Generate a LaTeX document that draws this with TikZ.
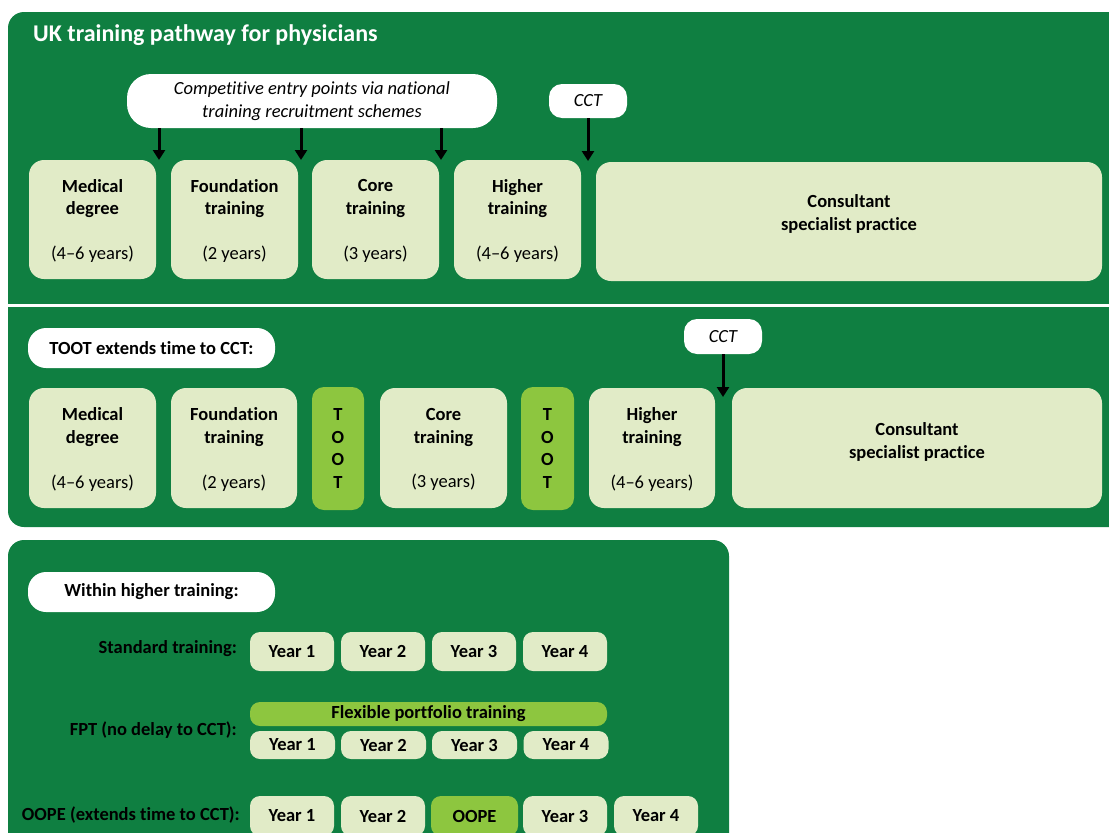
\documentclass[tikz,border=0pt]{standalone}
\usepackage{fontspec}
\setmainfont{Carlito}[Ligatures={TeX,NoCommon,NoContextual,NoRequired}, Contextuals=NoAlternate, RawFeature={-dlig,-calt,-clig}]
\usetikzlibrary{arrows.meta}

\definecolor{panelGreen}{HTML}{0F7F41}
\definecolor{paleGreen}{HTML}{E1EBC7}
\definecolor{limeGreen}{HTML}{8DC63F}
\newcommand{\stageFont}{\fontsize{18.5}{22.6}\selectfont}

\begin{document}
\begin{tikzpicture}[x=1pt, y=-1pt,
  stageBox/.style={rectangle, fill=paleGreen, rounded corners=15pt, align=center, inner sep=0pt, text depth=0pt, font=\stageFont},
  tootBox/.style={rectangle, fill=limeGreen, rounded corners=12pt, align=center, inner sep=0pt, font=\stageFont\bfseries},
  whiteTag/.style={rectangle, fill=white, align=center, inner sep=0pt, font=\stageFont},
  yearBox/.style={rectangle, fill=paleGreen, rounded corners=10pt, inner sep=0pt, font=\stageFont\bfseries},
  rowLabel/.style={anchor=east, inner sep=0pt, font=\stageFont\bfseries},
  entryArrow/.style={draw=black, line width=3pt, -{Triangle[width=12pt,length=10pt]}}]
\useasboundingbox (0,0) rectangle (1109,833);
\clip (0,0) rectangle (1109,833);

% panels
\fill[panelGreen, rounded corners=16pt] (8,12) rectangle (1130,527);
\draw[white, line width=3pt] (8,305.5) -- (1130,305.5);
\fill[panelGreen, rounded corners=16pt] (8,540) rectangle (729,870);

\node[anchor=base west, inner sep=0pt, text=white, font=\fontsize{24}{29}\selectfont\bfseries] (titleText) at (33,41) {UK training pathway for physicians};

% standard pathway
\node[whiteTag, rounded corners=24pt, minimum width=370pt, minimum height=54pt, font=\stageFont\itshape] (entryTag) at (312,101) {Competitive entry points via national\\training recruitment schemes};
\node[whiteTag, rounded corners=13pt, minimum width=78pt, minimum height=34pt, font=\stageFont\itshape] (cctTop) at (588,101) {CCT};

\node[stageBox, minimum width=127pt, minimum height=119pt] (medTop) at (92.5,219.5) {\textbf{Medical}\\\textbf{degree}\\[22pt](4--6 years)};
\node[stageBox, minimum width=127pt, minimum height=119pt] (foundTop) at (234.5,219.5) {\textbf{Foundation}\\\textbf{training}\\[22pt](2 years)};
\node[stageBox, minimum width=127pt, minimum height=119pt] (coreTop) at (375.5,219.5) {\textbf{Core}\\\textbf{training}\\[22pt](3 years)};
\node[stageBox, minimum width=127pt, minimum height=119pt] (higherTop) at (517.5,219.5) {\textbf{Higher}\\\textbf{training}\\[22pt](4--6 years)};
\node[stageBox, minimum width=506pt, minimum height=119pt] (consTop) at (849,221.5) {};
\node[align=center, inner sep=0pt, font=\stageFont\bfseries] (consTopText) at ([yshift=7.5pt]consTop.center) {Consultant\\specialist practice};

\coordinate (gapA) at (159,160);
\coordinate (gapB) at (301,160);
\coordinate (gapC) at (441,160);
\coordinate (gapD) at (588,161);
\draw[entryArrow] (entryTag.south -| gapA) -- (gapA);
\draw[entryArrow] (entryTag.south -| gapB) -- (gapB);
\draw[entryArrow] (entryTag.south -| gapC) -- (gapC);
\draw[entryArrow] (cctTop.south) -- (gapD);

% TOOT pathway
\node[whiteTag, rounded corners=18pt, minimum width=247pt, minimum height=40pt, font=\stageFont\bfseries] (tootTag) at (151.5,348) {TOOT extends time to CCT:};
\node[whiteTag, rounded corners=13pt, minimum width=78pt, minimum height=35pt, font=\stageFont\itshape] (cctMid) at (723,336.5) {CCT};

\node[stageBox, minimum width=127pt, minimum height=120pt] (medMid) at (92.5,448) {\textbf{Medical}\\\textbf{degree}\\[22pt](4--6 years)};
\node[stageBox, minimum width=126pt, minimum height=120pt] (foundMid) at (234,448) {\textbf{Foundation}\\\textbf{training}\\[22pt](2 years)};
\node[tootBox, minimum width=52pt, minimum height=123pt] (tootA) at (338,448.5) {T\\O\\O\\T};
\node[stageBox, minimum width=127pt, minimum height=120pt] (coreMid) at (443.5,448) {\textbf{Core}\\\textbf{training}\\[22pt](3 years)};
\node[tootBox, minimum width=53pt, minimum height=123pt] (tootB) at (547.5,448.5) {T\\O\\O\\T};
\node[stageBox, minimum width=126pt, minimum height=120pt] (higherMid) at (652,448) {\textbf{Higher}\\\textbf{training}\\[22pt](4--6 years)};
\node[stageBox, minimum width=370pt, minimum height=120pt] (consMid) at (917,448) {};
\node[align=center, inner sep=0pt, font=\stageFont\bfseries] (consMidText) at ([yshift=6pt]consMid.center) {Consultant\\specialist practice};

\coordinate (gapE) at (723,397);
\draw[entryArrow] (cctMid.south) -- (gapE);

% within higher training
\node[whiteTag, rounded corners=18pt, minimum width=247pt, minimum height=40pt, font=\stageFont\bfseries] (withinTag) at (151.5,592) {Within higher training:};

\node[rowLabel] (stdLabel) at (237,649) {Standard training:};
\node[yearBox, minimum width=84pt, minimum height=39pt] (stdOne) at (292,651.5) {Year 1};
\node[yearBox, minimum width=84pt, minimum height=39pt] (stdTwo) at (383,651.5) {Year 2};
\node[yearBox, minimum width=84pt, minimum height=39pt] (stdThree) at (474,651.5) {Year 3};
\node[yearBox, minimum width=84pt, minimum height=39pt] (stdFour) at (565,651.5) {Year 4};

\node[rowLabel] (fptLabel) at (237,730) {FPT (no delay to CCT):};
\node[yearBox, fill=limeGreen, minimum width=357pt, minimum height=24pt] (fptBar) at (428.5,714) {Flexible portfolio training};
\node[yearBox, minimum width=85pt, minimum height=28pt] (fptOne) at (292.5,745) {Year 1};
\node[yearBox, minimum width=85pt, minimum height=28pt] (fptTwo) at (383.5,745) {Year 2};
\node[yearBox, minimum width=85pt, minimum height=28pt] (fptThree) at (474.5,745) {Year 3};
\node[yearBox, minimum width=85pt, minimum height=28pt] (fptFour) at (566,745) {Year 4};

\node[rowLabel] (oopeLabel) at (240,815) {OOPE (extends time to CCT):};
\node[yearBox, minimum width=84pt, minimum height=40pt] (oopeOne) at (292,816) {Year 1};
\node[yearBox, minimum width=84pt, minimum height=40pt] (oopeTwo) at (383,816) {Year 2};
\node[yearBox, fill=limeGreen, minimum width=87pt, minimum height=40pt] (oopeGap) at (474.5,816) {OOPE};
\node[yearBox, minimum width=84pt, minimum height=40pt] (oopeThree) at (565,816) {Year 3};
\node[yearBox, minimum width=84pt, minimum height=40pt] (oopeFour) at (656,816) {Year 4};
\end{tikzpicture}
\end{document}
